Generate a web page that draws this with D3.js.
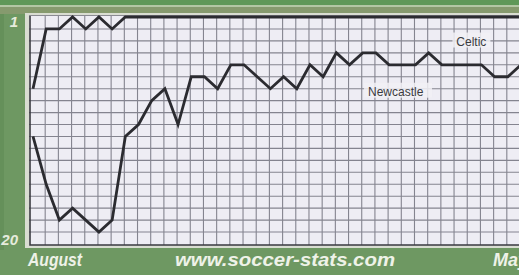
<!DOCTYPE html>
<html>
<head>
<meta charset="utf-8">
<script src="https://cdn.jsdelivr.net/npm/d3@7"></script>
<style>
  html, body { margin: 0; padding: 0; background: #6e9862; }
  svg { display: block; }
</style>
</head>
<body>
<div id="chart"></div>
<script>
// league position after each match (1 = top)
const matches = d3.range(38);
const celtic = [7, 2, 2, 1, 2, 1, 2, 1, 1, 1, 1, 1, 1, 1, 1, 1, 1, 1, 1, 1,
  1, 1, 1, 1, 1, 1, 1, 1, 1, 1, 1, 1, 1, 1, 1, 1, 1, 1];
const newcastle = [11, 15, 18, 17, 18, 19, 18, 11, 10, 8, 7, 10, 6, 6, 7, 5, 5, 6, 7, 6,
  7, 5, 6, 4, 5, 4, 4, 5, 5, 5, 4, 5, 5, 5, 5, 6, 6, 5];
const yTicks = [1, 20];
const monthLabels = ["August", "May"];
const credit = "www.soccer-stats.com";

const width = 519,
  height = 275;

const xScale = d3.scaleLinear().domain([0, 37]).range([33, 521]);
const yScale = d3.scaleLinear().domain([1, 20]).range([17, 244]);

const svg = d3
  .select("#chart")
  .append("svg")
  .attr("width", width)
  .attr("height", height)
  .attr("viewBox", [0, 0, width, height]);

// green frame
svg.append("rect").attr("width", width).attr("height", height).attr("fill", "#6e9862");
svg.append("rect").attr("width", width).attr("height", 5).attr("fill", "#5f9858");
svg.append("rect").attr("y", 5).attr("width", width).attr("height", 2).attr("fill", "#b3c7a4");
svg.append("rect").attr("y", 7).attr("width", width).attr("height", 7).attr("fill", "#869a6e");
svg.append("rect").attr("x", 0).attr("width", 4).attr("y", 14).attr("height", 236).attr("fill", "#65905a");

// light paper edge then plot paper
svg.append("rect")
  .attr("x", 25).attr("y", 13)
  .attr("width", width).attr("height", 235)
  .attr("fill", "#d9ddd2");
svg.append("rect")
  .attr("x", 29).attr("y", 15)
  .attr("width", width).attr("height", 230)
  .attr("fill", "#eeedf4");

let grid = svg.append("g").attr("class", "grid");

grid.append("g")
  .selectAll("line")
  .data(d3.range(1, 40))
  .join("line")
  .attr("x1", (d) => xScale(d) - 1)
  .attr("x2", (d) => xScale(d) - 1)
  .attr("y1", 15)
  .attr("y2", 245)
  .attr("stroke", "#84848f")
  .attr("stroke-width", 1.1);

grid.append("g")
  .selectAll("line")
  .data(d3.range(2, 20))
  .join("line")
  .attr("x1", 29)
  .attr("x2", width)
  .attr("y1", (d) => yScale(d))
  .attr("y2", (d) => yScale(d))
  .attr("stroke", "#84848f")
  .attr("stroke-width", 1.1);

// plot border
svg.append("path")
  .attr("d", `M30,15V245H${width}`)
  .attr("fill", "none")
  .attr("stroke", "#3a3a40")
  .attr("stroke-width", 1.6);
svg.append("line")
  .attr("x1", 29).attr("x2", width)
  .attr("y1", 15.5).attr("y2", 15.5)
  .attr("stroke", "#8a8a92")
  .attr("stroke-width", 1);

// label backgrounds
svg.append("rect")
  .attr("x", xScale(31.8)).attr("y", yScale(2.3))
  .attr("width", 38).attr("height", 15)
  .attr("fill", "#f1f0f5").attr("opacity", 0.85);
svg.append("rect")
  .attr("x", xScale(25.1)).attr("y", yScale(6.5))
  .attr("width", 68).attr("height", 15)
  .attr("fill", "#f1f0f5").attr("opacity", 0.85);

let line = d3.line()
  .x((d, i) => xScale(matches[i]))
  .y((d) => yScale(d))
  .curve(d3.curveLinear);

svg.append("g")
  .selectAll("path")
  .data([celtic, newcastle])
  .join("path")
  .attr("d", line)
  .attr("fill", "none")
  .attr("stroke", "#2b2b30")
  .attr("stroke-width", 2.8)
  .attr("stroke-linejoin", "miter");

// series labels
svg.append("text")
  .text("Celtic")
  .attr("x", xScale(32.1))
  .attr("y", yScale(3.45))
  .style("font-family", "Liberation Sans, Arial, sans-serif")
  .style("font-size", "12px")
  .style("fill", "#3a3a40");
svg.append("text")
  .text("Newcastle")
  .attr("x", xScale(25.4))
  .attr("y", yScale(7.6))
  .style("font-family", "Liberation Sans, Arial, sans-serif")
  .style("font-size", "12px")
  .style("fill", "#3a3a40");

// y labels
svg.append("g")
  .selectAll("text")
  .data(yTicks)
  .join("text")
  .text((d) => d)
  .attr("x", 18)
  .attr("y", (d) => yScale(d) + (d == 1 ? 10 : 1))
  .attr("text-anchor", "end")
  .style("font-family", "Liberation Sans, Arial, sans-serif")
  .style("font-weight", "bold")
  .style("font-style", "italic")
  .style("font-size", "15px")
  .style("fill", "#e6ebdc");

// bottom texts
let bottom = svg.append("g")
  .style("font-family", "Liberation Sans, Arial, sans-serif")
  .style("font-weight", "bold")
  .style("font-style", "italic")
  .style("font-size", "18px")
  .style("fill", "#eef2e8");

bottom.append("text")
  .text(monthLabels[0])
  .attr("x", 28)
  .attr("y", 266)
  .attr("textLength", 54)
  .attr("lengthAdjust", "spacingAndGlyphs");

bottom.append("text")
  .text(credit)
  .attr("x", 175)
  .attr("y", 266)
  .attr("textLength", 220)
  .attr("lengthAdjust", "spacingAndGlyphs");

bottom.append("text")
  .text(monthLabels[1])
  .attr("x", 493)
  .attr("y", 266);
</script>
</body>
</html>
